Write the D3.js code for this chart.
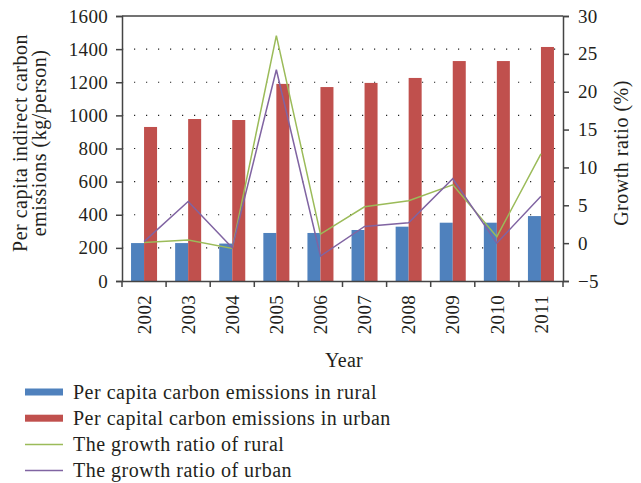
<!DOCTYPE html>
<html>
<head>
<meta charset="utf-8">
<script src="https://cdn.jsdelivr.net/npm/d3@7"></script>
<style>
  body { margin: 0; background: #fff; }
  text { font-family: "Liberation Serif", "DejaVu Serif", serif; fill: #231f20; }
</style>
</head>
<body>
<div id="chart"></div>
<script>
const years = ["2002", "2003", "2004", "2005", "2006", "2007", "2008", "2009", "2010", "2011"];
const rural = [229, 229, 226, 290, 290, 308, 328, 352, 352, 392];
const urban = [930, 978, 972, 1190, 1171, 1196, 1226, 1328, 1328, 1413];
const growthRural = [0.1, 0.4, -0.7, 27.4, 1.2, 4.8, 5.6, 7.7, 0.85, 11.8];
const growthUrban = [0.2, 5.5, -0.6, 22.9, -1.7, 2.2, 2.7, 8.5, 0.0, 6.2];
const leftTicks = [0, 200, 400, 600, 800, 1000, 1200, 1400, 1600];
const rightTicks = [-5, 0, 5, 10, 15, 20, 25, 30];

const colors = { rural: "#4f81bd", urban: "#c0504d", gRural: "#9bbb59", gUrban: "#8064a2" };

const W = 641, H = 483;
const margin = { top: 16, right: 78, bottom: 202, left: 122 };
const width = W - margin.left - margin.right;
const height = H - margin.top - margin.bottom;

const svg = d3.select("#chart").append("svg")
  .attr("width", W).attr("height", H);
const g = svg.append("g").attr("transform", `translate(${margin.left},${margin.top})`);

const x = d3.scaleBand().domain(years).range([0, width]).paddingInner(0).paddingOuter(0);
const xSub = d3.scaleBand().domain(["rural", "urban"]).range([x.bandwidth() * 0.205, x.bandwidth() * 0.795]);
const yL = d3.scaleLinear().domain([0, 1600]).range([height, 0]);
const yR = d3.scaleLinear().domain([-5, 30]).range([height, 0]);

// dotted gridlines
g.append("g").selectAll("line")
  .data(leftTicks.filter(t => t > 0 && t < 1600))
  .join("line")
  .attr("x1", 0).attr("x2", width)
  .attr("y1", d => yL(d)).attr("y2", d => yL(d))
  .attr("stroke", "#222").attr("stroke-width", 1.2)
  .attr("stroke-dasharray", "1.2,10.8");

// bars
years.forEach((yr, i) => {
  g.append("rect")
    .attr("x", x(yr) + xSub("rural")).attr("width", xSub.bandwidth())
    .attr("y", yL(rural[i])).attr("height", height - yL(rural[i]))
    .attr("fill", colors.rural);
  g.append("rect")
    .attr("x", x(yr) + xSub("urban")).attr("width", xSub.bandwidth())
    .attr("y", yL(urban[i])).attr("height", height - yL(urban[i]))
    .attr("fill", colors.urban);
});

// growth lines
const line = d3.line().x((d, i) => x(years[i]) + x.bandwidth() / 2).y(d => yR(d));
g.append("path").datum(growthRural).attr("d", line)
  .attr("fill", "none").attr("stroke", colors.gRural).attr("stroke-width", 1.5);
g.append("path").datum(growthUrban).attr("d", line)
  .attr("fill", "none").attr("stroke", colors.gUrban).attr("stroke-width", 1.5);

// top frame
g.append("line").attr("x1", 0).attr("x2", width).attr("y1", 0).attr("y2", 0)
  .attr("stroke", "#444").attr("stroke-width", 1.5);

// axes
const axL = g.append("g").call(d3.axisLeft(yL).tickValues(leftTicks).tickSize(6).tickPadding(8).tickFormat(d3.format("d")));
const axR = g.append("g").attr("transform", `translate(${width},0)`)
  .call(d3.axisRight(yR).tickValues(rightTicks).tickSize(6).tickPadding(9).tickFormat(d => d < 0 ? "\u2212" + Math.abs(d) : d));
const axB = g.append("g").attr("transform", `translate(0,${height})`)
  .call(d3.axisBottom(x).tickSize(0).tickPadding(0));

[axL, axR, axB].forEach(a => {
  a.select(".domain").attr("stroke", "#444").attr("stroke-width", 1.5);
  a.selectAll(".tick line").attr("stroke", "#444").attr("stroke-width", 1.5);
  a.selectAll("text").attr("font-size", 19).attr("letter-spacing", 0.3).attr("fill", "#231f20");
});

// bottom ticks at category boundaries
g.append("g").selectAll("line")
  .data(d3.range(years.length + 1))
  .join("line")
  .attr("x1", i => i * x.bandwidth()).attr("x2", i => i * x.bandwidth())
  .attr("y1", height).attr("y2", height + 6)
  .attr("stroke", "#444").attr("stroke-width", 1.5);

axB.selectAll(".tick text")
  .attr("transform", "rotate(-90)")
  .attr("text-anchor", "end")
  .attr("dy", "0.35em")
  .attr("x", -14).attr("y", 0);

// axis titles
const titleSize = 20, titleSpacing = 0.5;
svg.append("text")
  .attr("transform", "translate(27,143) rotate(-90)")
  .attr("text-anchor", "middle").attr("font-size", titleSize).attr("letter-spacing", titleSpacing)
  .text("Per capita indirect carbon");
svg.append("text")
  .attr("transform", "translate(46,143) rotate(-90)")
  .attr("text-anchor", "middle").attr("font-size", titleSize).attr("letter-spacing", titleSpacing)
  .text("emissions (kg/person)");
svg.append("text")
  .attr("transform", "translate(628,153) rotate(-90)")
  .attr("text-anchor", "middle").attr("font-size", titleSize).attr("letter-spacing", titleSpacing)
  .text("Growth ratio (%)");
svg.append("text")
  .attr("x", 344).attr("y", 367)
  .attr("text-anchor", "middle").attr("font-size", titleSize).attr("letter-spacing", 0.3)
  .text("Year");

// legend
const legendItems = [
  { label: "Per capita carbon emissions in rural", color: colors.rural, type: "bar" },
  { label: "Per capital carbon emissions in urban", color: colors.urban, type: "bar" },
  { label: "The growth ratio of rural", color: colors.gRural, type: "line" },
  { label: "The growth ratio of urban", color: colors.gUrban, type: "line" }
];
const legend = svg.append("g").attr("transform", "translate(25,392)");
legendItems.forEach((d, i) => {
  const row = legend.append("g").attr("transform", `translate(0,${i * 26.2})`);
  if (d.type === "bar") {
    row.append("rect").attr("x", 0).attr("y", -3.5).attr("width", 38).attr("height", 7).attr("fill", d.color);
  } else {
    row.append("line").attr("x1", 0).attr("x2", 38).attr("y1", 0).attr("y2", 0)
      .attr("stroke", d.color).attr("stroke-width", 1.5);
  }
  row.append("text").attr("x", 48).attr("y", 0).attr("dy", "0.33em")
    .attr("font-size", titleSize).attr("letter-spacing", titleSpacing).text(d.label);
});
</script>
</body>
</html>
